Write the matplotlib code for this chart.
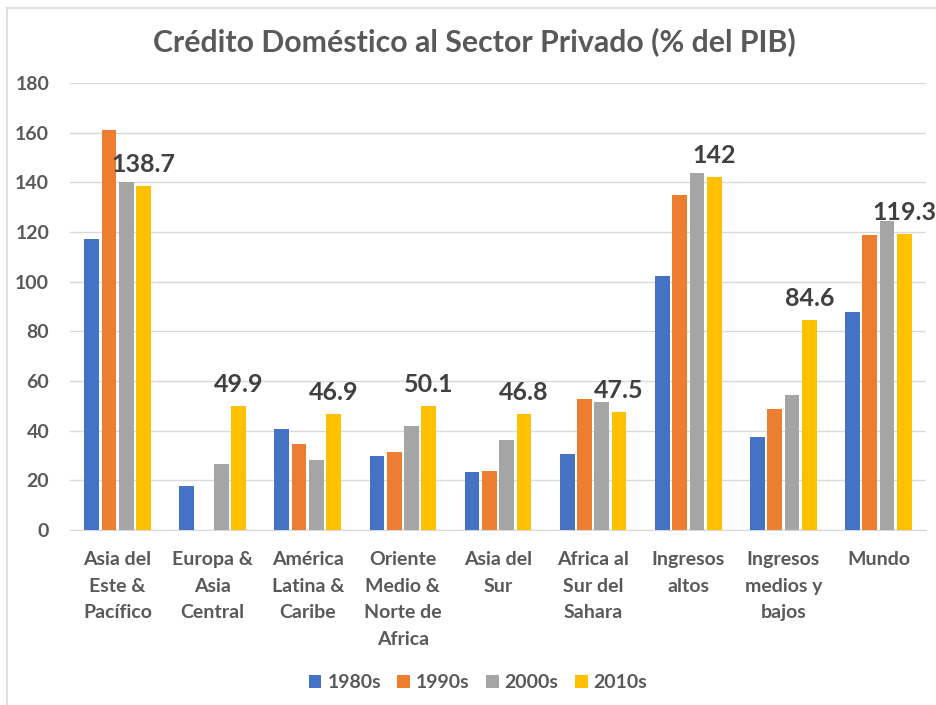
import numpy as np
import matplotlib.pyplot as plt
from matplotlib.lines import Line2D

plt.rcParams['font.family'] = ['Lato', 'DejaVu Sans']

categorias = ['Asia del\nEste &\nPacífico', 'Europa &\nAsia\nCentral', 'América\nLatina &\nCaribe',
              'Oriente\nMedio &\nNorte de\nAfrica', 'Asia del\nSur', 'Africa al\nSur del\nSahara',
              'Ingresos\naltos', 'Ingresos\nmedios y\nbajos', 'Mundo']
series = ['1980s', '1990s', '2000s', '2010s']
v1980 = [117.0, 17.8, 40.6, 30.0, 23.2, 30.5, 102.2, 37.3, 87.7]
v1990 = [161.2, np.nan, 34.7, 31.3, 23.6, 52.8, 135.0, 48.6, 118.6]
v2000 = [140.1, 26.5, 28.2, 41.8, 36.3, 51.7, 143.7, 54.4, 124.4]
v2010 = [138.7, 49.9, 46.9, 50.1, 46.8, 47.5, 142.0, 84.6, 119.3]
colores = ['#4472C4', '#ED7D31', '#A5A5A5', '#FFC000']

fig = plt.figure(figsize=(9.36, 7.05), dpi=100)
ax = fig.add_axes([70 / 936, 1 - 530 / 705, 856 / 936, 447 / 705])

x = np.arange(len(categorias))
paso = 0.182
for i, (nombre, vals) in enumerate(zip(series, [v1980, v1990, v2000, v2010])):
    ax.bar(x + (i - 1.5) * paso, vals, width=0.155, color=colores[i], label=nombre, zorder=3)

# etiquetas solo para la serie 2010s
for xi, v in zip(x, v2010):
    ax.annotate(f'{v:g}', (xi + 1.5 * paso, v), xytext=(0, 10), textcoords='offset points',
                ha='center', va='baseline', fontsize=18, fontweight='bold', color='#404040', zorder=4)

ax.set_xlim(-0.5, len(categorias) - 0.5)
ax.set_ylim(0, 180)
ax.set_yticks(np.arange(0, 181, 20))
ax.set_xticks(x)
ax.set_xticklabels(categorias, fontsize=14, fontweight='bold', color='#595959', linespacing=1.7)
ax.tick_params(axis='y', labelsize=14, labelcolor='#595959', length=0, pad=15)
ax.tick_params(axis='x', length=0, pad=15)
for lbl in ax.get_yticklabels():
    lbl.set_fontweight('bold')
ax.grid(axis='y', color='#D9D9D9', linewidth=1, zorder=0)
for s in ['top', 'right', 'left']:
    ax.spines[s].set_visible(False)
ax.spines['bottom'].set_color('#D9D9D9')

fig.text(474 / 936, 1 - 42 / 705, 'Crédito Doméstico al Sector Privado (% del PIB)',
         ha='center', va='center', fontsize=21.8, fontweight='bold', color='#595959')

fig.legend(loc='center', bbox_to_anchor=(478 / 936, 1 - 683 / 705), ncol=4, frameon=False,
           prop={'size': 14, 'weight': 'bold'}, labelcolor='#595959', handlelength=0.65,
           handleheight=0.65, handletextpad=0.3, columnspacing=0.85)

# borde del área del gráfico
fig.add_artist(Line2D([7 / 936, 7 / 936], [0, 1 - 8 / 705], color='#D9D9D9', lw=1.2))
fig.add_artist(Line2D([7 / 936, 1], [1 - 8 / 705, 1 - 8 / 705], color='#D9D9D9', lw=1.2))

fig.savefig('out.png')
